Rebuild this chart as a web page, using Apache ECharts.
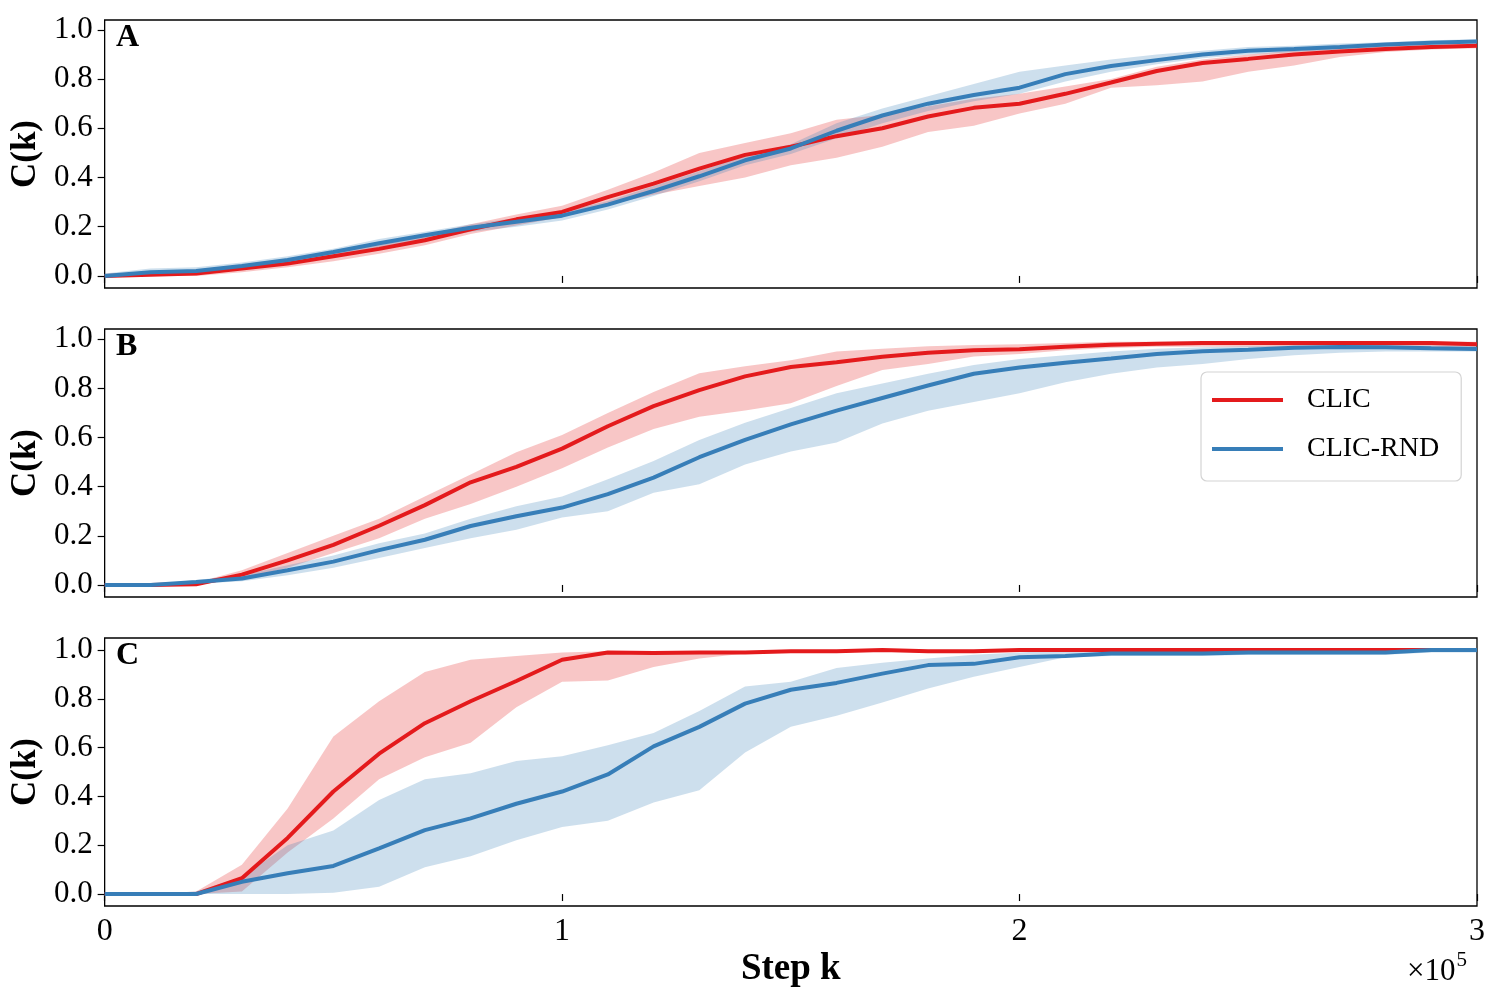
<!DOCTYPE html>
<html>
<head>
<meta charset="utf-8">
<script src="https://cdn.jsdelivr.net/npm/echarts@6/dist/echarts.min.js"></script>
<style>
html, body { margin: 0; padding: 0; background: #fff; }
#chart { width: 1500px; height: 1000px; }
</style>
</head>
<body>
<div id="chart"></div>
<script>
// step k, every 1e4
var steps = [0, 10000, 20000, 30000, 40000, 50000, 60000, 70000, 80000, 90000,
    100000, 110000, 120000, 130000, 140000, 150000, 160000, 170000, 180000, 190000,
    200000, 210000, 220000, 230000, 240000, 250000, 260000, 270000, 280000, 290000, 300000];
var yTicks = [0, 0.2, 0.4, 0.6, 0.8, 1.0];
var panelNames = ['A', 'B', 'C'];
var legendNames = ['CLIC', 'CLIC-RND'];

// panel A
var aRed = [0, 0.005, 0.01, 0.03, 0.05, 0.08, 0.11, 0.145, 0.19, 0.23, 0.26, 0.32, 0.375, 0.436, 0.492, 0.525, 0.568, 0.60, 0.648, 0.683, 0.70, 0.74, 0.786, 0.833, 0.865, 0.882, 0.90, 0.912, 0.922, 0.93, 0.935];
var aRedLo = [0, 0, 0, 0.015, 0.035, 0.06, 0.09, 0.125, 0.17, 0.205, 0.24, 0.29, 0.33, 0.365, 0.40, 0.45, 0.48, 0.525, 0.585, 0.61, 0.66, 0.70, 0.765, 0.775, 0.79, 0.83, 0.855, 0.89, 0.91, 0.92, 0.925];
var aRedHi = [0.005, 0.015, 0.025, 0.045, 0.07, 0.10, 0.13, 0.165, 0.21, 0.25, 0.285, 0.35, 0.42, 0.50, 0.54, 0.58, 0.635, 0.655, 0.69, 0.72, 0.74, 0.77, 0.80, 0.85, 0.88, 0.90, 0.915, 0.925, 0.935, 0.94, 0.945];
var aBlue = [0, 0.015, 0.02, 0.04, 0.065, 0.097, 0.133, 0.165, 0.196, 0.22, 0.245, 0.29, 0.345, 0.405, 0.47, 0.518, 0.59, 0.652, 0.70, 0.735, 0.765, 0.82, 0.853, 0.877, 0.90, 0.915, 0.922, 0.93, 0.94, 0.948, 0.953];
var aBlueLo = [0, 0, 0.005, 0.025, 0.05, 0.08, 0.115, 0.145, 0.18, 0.20, 0.225, 0.27, 0.325, 0.385, 0.45, 0.495, 0.56, 0.62, 0.67, 0.71, 0.74, 0.79, 0.83, 0.86, 0.885, 0.90, 0.91, 0.92, 0.93, 0.94, 0.945];
var aBlueHi = [0.01, 0.03, 0.035, 0.055, 0.08, 0.11, 0.15, 0.18, 0.21, 0.235, 0.26, 0.305, 0.365, 0.425, 0.49, 0.535, 0.62, 0.68, 0.73, 0.78, 0.83, 0.855, 0.88, 0.90, 0.915, 0.93, 0.935, 0.945, 0.95, 0.958, 0.962];

// panel B
var bRed = [0, 0, 0.003, 0.042, 0.10, 0.163, 0.241, 0.325, 0.418, 0.481, 0.555, 0.646, 0.728, 0.793, 0.849, 0.887, 0.907, 0.929, 0.945, 0.955, 0.96, 0.97, 0.978, 0.982, 0.985, 0.985, 0.985, 0.985, 0.985, 0.985, 0.98];
var bRedLo = [0, 0, 0, 0.025, 0.07, 0.13, 0.19, 0.27, 0.33, 0.40, 0.475, 0.56, 0.635, 0.685, 0.71, 0.74, 0.81, 0.875, 0.90, 0.93, 0.94, 0.955, 0.965, 0.97, 0.97, 0.97, 0.97, 0.97, 0.97, 0.97, 0.97];
var bRedHi = [0.005, 0.005, 0.01, 0.06, 0.13, 0.20, 0.27, 0.36, 0.45, 0.54, 0.61, 0.70, 0.786, 0.862, 0.89, 0.915, 0.95, 0.962, 0.972, 0.977, 0.98, 0.985, 0.99, 0.99, 0.99, 0.99, 0.99, 0.99, 0.99, 0.99, 0.99];
var bBlue = [0, 0, 0.012, 0.026, 0.06, 0.095, 0.142, 0.184, 0.24, 0.28, 0.315, 0.37, 0.437, 0.52, 0.591, 0.654, 0.71, 0.761, 0.812, 0.86, 0.885, 0.905, 0.922, 0.94, 0.951, 0.958, 0.966, 0.969, 0.968, 0.964, 0.961];
var bBlueLo = [0, 0, 0.005, 0.015, 0.04, 0.07, 0.11, 0.15, 0.19, 0.225, 0.275, 0.30, 0.375, 0.41, 0.49, 0.543, 0.58, 0.657, 0.709, 0.745, 0.78, 0.825, 0.86, 0.885, 0.90, 0.92, 0.935, 0.945, 0.95, 0.95, 0.95];
var bBlueHi = [0.002, 0.002, 0.02, 0.04, 0.08, 0.12, 0.17, 0.21, 0.27, 0.32, 0.36, 0.43, 0.505, 0.59, 0.66, 0.72, 0.78, 0.82, 0.86, 0.895, 0.92, 0.935, 0.95, 0.962, 0.968, 0.972, 0.975, 0.975, 0.975, 0.975, 0.975];

// panel C
var cRed = [0, 0, 0, 0.065, 0.23, 0.42, 0.575, 0.70, 0.79, 0.873, 0.96, 0.99, 0.988, 0.99, 0.99, 0.995, 0.995, 1.0, 0.995, 0.995, 1.0, 1.0, 1.0, 1.0, 1.0, 1.0, 1.0, 1.0, 1.0, 1.0, 1.0];
var cRedLo = [0, 0, 0, 0.01, 0.17, 0.31, 0.47, 0.56, 0.62, 0.765, 0.87, 0.875, 0.93, 0.965, 0.985, 0.99, 0.99, 0.995, 0.99, 0.99, 0.995, 0.995, 0.995, 0.995, 0.995, 0.995, 0.995, 0.995, 0.995, 0.995, 0.995];
var cRedHi = [0, 0, 0.01, 0.12, 0.35, 0.645, 0.79, 0.91, 0.96, 0.975, 0.99, 0.995, 0.995, 0.995, 0.995, 1.0, 1.0, 1.0, 1.0, 1.0, 1.0, 1.0, 1.0, 1.0, 1.0, 1.0, 1.0, 1.0, 1.0, 1.0, 1.0];
var cBlue = [0, 0, 0, 0.05, 0.085, 0.115, 0.187, 0.262, 0.31, 0.37, 0.42, 0.49, 0.605, 0.685, 0.78, 0.837, 0.865, 0.903, 0.938, 0.943, 0.97, 0.975, 0.985, 0.985, 0.985, 0.99, 0.99, 0.99, 0.99, 1.0, 1.0];
var cBlueLo = [0, 0, 0, 0, 0, 0.005, 0.03, 0.11, 0.155, 0.22, 0.275, 0.30, 0.375, 0.425, 0.58, 0.685, 0.73, 0.785, 0.842, 0.89, 0.93, 0.97, 0.975, 0.975, 0.975, 0.98, 0.98, 0.98, 0.98, 0.99, 0.99];
var cBlueHi = [0, 0, 0.01, 0.07, 0.20, 0.26, 0.385, 0.47, 0.495, 0.545, 0.565, 0.61, 0.66, 0.75, 0.85, 0.87, 0.926, 0.948, 0.965, 0.98, 0.99, 1.0, 1.0, 1.0, 1.0, 1.0, 1.0, 1.0, 1.0, 1.0, 1.0];

var RED = '#e41a1c', BLUE = '#377eb8';
var FONT = 'Liberation Serif';

var panels = [
    { red: aRed, redLo: aRedLo, redHi: aRedHi, blue: aBlue, blueLo: aBlueLo, blueHi: aBlueHi, ymin: -0.049, ymax: 1.04 },
    { red: bRed, redLo: bRedLo, redHi: bRedHi, blue: bBlue, blueLo: bBlueLo, blueHi: bBlueHi, ymin: -0.049, ymax: 1.042 },
    { red: cRed, redLo: cRedLo, redHi: cRedHi, blue: cBlue, blueLo: cBlueLo, blueHi: cBlueHi, ymin: -0.049, ymax: 1.049 }
];
var gridTops = [20, 329, 638];

function pairs(vals) {
    return steps.map(function (s, i) { return [s, vals[i]]; });
}

// shaded band: one polygon, upper edge forward then lower edge back
function bandSeries(gi, lo, hi, fill) {
    return {
        type: 'custom', xAxisIndex: gi, yAxisIndex: gi, silent: true, z: 1,
        data: steps.map(function (s, i) { return [s, lo[i], hi[i]]; }),
        encode: { x: 0, y: [1, 2] },
        renderItem: function (params, api) {
            if (params.dataIndexInside !== 0) return;
            var n = params.dataInsideLength;
            var top = [], bottom = [];
            for (var i = 0; i < n; i++) {
                top.push(api.coord([api.value(0, i), api.value(2, i)]));
                bottom.push(api.coord([api.value(0, i), api.value(1, i)]));
            }
            return {
                type: 'polygon',
                shape: { points: top.concat(bottom.reverse()) },
                style: { fill: fill }
            };
        }
    };
}

function lineSeries(gi, vals, name, color, z) {
    return {
        name: name, type: 'line', xAxisIndex: gi, yAxisIndex: gi,
        data: pairs(vals), symbol: 'none', color: color,
        lineStyle: { color: color, width: 4 }, z: z
    };
}

var grid = [], xAxis = [], yAxis = [], series = [], title = [];
panels.forEach(function (p, i) {
    grid.push({
        left: 102, top: gridTops[i], width: 1375, height: 268,
        show: true, borderColor: '#000', borderWidth: 1.3, backgroundColor: 'transparent'
    });
    xAxis.push({
        type: 'value', gridIndex: i, min: 0, max: 300000, interval: 100000,
        axisLine: { show: false },
        axisTick: { show: true, length: 7, lineStyle: { color: '#000', width: 1.2 } },
        splitLine: { show: false },
        axisLabel: {
            show: i === 2, margin: 10, color: '#000', fontSize: 32, fontFamily: FONT,
            formatter: function (v) { return String(v / 100000); }
        },
        name: i === 2 ? 'Step k' : '', nameLocation: 'middle', nameGap: 45,
        nameTextStyle: { fontSize: 37, fontWeight: 'bold', fontFamily: FONT, color: '#000' }
    });
    yAxis.push({
        type: 'value', gridIndex: i, min: p.ymin, max: p.ymax,
        axisLine: { show: false },
        axisTick: { show: true, length: 7, customValues: yTicks, lineStyle: { color: '#000', width: 1.2 } },
        splitLine: { show: false },
        axisLabel: {
            customValues: yTicks, margin: 12, color: '#000', fontSize: 31, fontFamily: FONT,
            formatter: function (v) { return v.toFixed(1); }
        },
        name: 'C(k)', nameLocation: 'middle', nameGap: 51,
        nameTextStyle: { fontSize: 35, fontWeight: 'bold', fontFamily: FONT, color: '#000' }
    });
    title.push({
        text: panelNames[i], left: 111, top: gridTops[i] - 3,
        textStyle: { fontSize: 32, fontWeight: 'bold', fontFamily: FONT, color: '#000' }
    });
    series.push(bandSeries(i, p.redLo, p.redHi, 'rgba(228,26,28,0.25)'));
    series.push(bandSeries(i, p.blueLo, p.blueHi, 'rgba(55,126,184,0.25)'));
    series.push(lineSeries(i, p.red, legendNames[0], RED, 3));
    series.push(lineSeries(i, p.blue, legendNames[1], BLUE, 4));
});

var chart = echarts.init(document.getElementById('chart'));
chart.setOption({
    backgroundColor: '#fff',
    animation: false,
    title: title,
    grid: grid,
    xAxis: xAxis,
    yAxis: yAxis,
    legend: {
        data: legendNames, orient: 'vertical', left: 1201, top: 372,
        icon: 'rect', itemWidth: 71, itemHeight: 4, itemGap: 21,
        padding: [14, 22, 18, 11], borderColor: '#d4d4d4', borderWidth: 1.2, borderRadius: 6,
        backgroundColor: 'rgba(255,255,255,0.85)',
        textStyle: { fontSize: 28, fontFamily: FONT, color: '#000', lineHeight: 28, padding: [0, 0, 0, 19] }
    },
    graphic: [{
        type: 'text', left: 1407, top: 950,
        style: {
            text: '{a|×10}{b|5}', fill: '#000',
            rich: {
                a: { fontSize: 31, fontFamily: FONT, verticalAlign: 'bottom' },
                b: { fontSize: 21, fontFamily: FONT, verticalAlign: 'top', padding: [0, 0, 16, 1] }
            }
        }
    }],
    series: series
});
</script>
</body>
</html>
